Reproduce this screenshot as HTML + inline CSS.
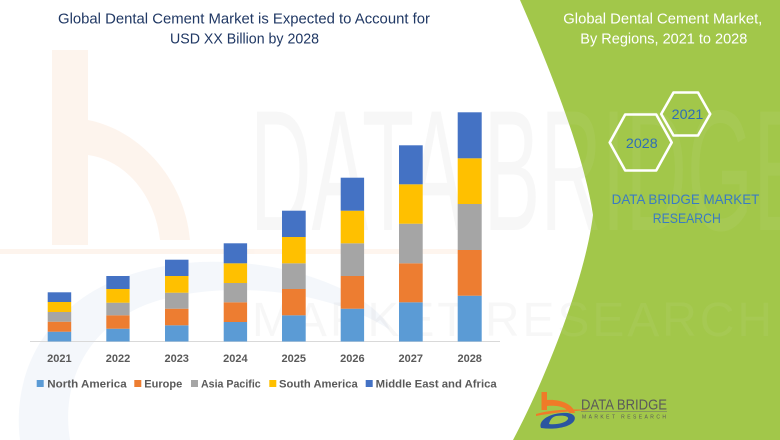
<!DOCTYPE html>
<html><head><meta charset="utf-8"><style>
html,body{margin:0;padding:0;background:#fff;}
svg{display:block;}
text{font-family:"Liberation Sans",sans-serif;}
</style></head><body>
<svg width="780" height="440" viewBox="0 0 780 440" xmlns="http://www.w3.org/2000/svg">
<rect width="780" height="440" fill="#fff"/>
<!-- faint watermark logo -->
<g opacity="0.08">
  <rect x="52" y="50" width="36" height="195" fill="#f07a28"/>
  <path d="M88,120 C140,130 185,180 190,240 L160,240 C155,195 125,160 88,155 Z" fill="#f07a28"/>
  <rect x="0" y="249" width="470" height="5" fill="#f07a28"/>
</g>
<g opacity="0.05">
  <path d="M20,440 C10,360 60,270 200,262 C300,258 380,300 390,330 C330,290 230,280 160,300 C90,320 60,380 70,440 Z" fill="#2e5da8"/>
</g>
<g fill="#000" fill-opacity="0.03">
  <text x="250" y="230" font-size="172" textLength="560" lengthAdjust="spacingAndGlyphs">DATA BRIDGE</text>
  <text x="252" y="336" font-size="48" textLength="520" lengthAdjust="spacing">MARKET RESEARCH</text>
</g>
<!-- green panel -->
<path d="M520,0 L780,0 L780,440 L513,440 C545,380 585,280 593,215 C585,160 555,80 520,0 Z" fill="#a2c74a"/>
<g fill="#fff" fill-opacity="0.05">
  <text x="250" y="230" font-size="172" textLength="560" lengthAdjust="spacingAndGlyphs">DATA BRIDGE</text>
  <text x="252" y="336" font-size="48" textLength="520" lengthAdjust="spacing">MARKET RESEARCH</text>
</g>
<!-- left title -->
<text x="244" y="23.5" font-size="15" fill="#203864" text-anchor="middle" textLength="372" lengthAdjust="spacingAndGlyphs">Global Dental Cement Market is Expected to Account for</text>
<text x="244.5" y="43.5" font-size="15" fill="#203864" text-anchor="middle" textLength="149" lengthAdjust="spacingAndGlyphs">USD XX Billion by 2028</text>
<!-- right title -->
<text x="662.8" y="23.5" font-size="15" fill="#fff" text-anchor="middle" textLength="199" lengthAdjust="spacingAndGlyphs">Global Dental Cement Market,</text>
<text x="663.8" y="43.5" font-size="15" fill="#fff" text-anchor="middle" textLength="167" lengthAdjust="spacingAndGlyphs">By Regions, 2021 to 2028</text>
<!-- hexagons -->
<polygon points="661.2,114 673.5,92.5 698,92.5 710.2,114 698,135.5 673.5,135.5" fill="none" stroke="#fff" stroke-width="2.6" stroke-linejoin="round"/>
<polygon points="609.7,142.5 625.2,114.5 656.2,114.5 671.7,142.5 656.2,170.5 625.2,170.5" fill="none" stroke="#fff" stroke-width="2.6" stroke-linejoin="round"/>
<text x="687.5" y="119" font-size="14" fill="#2f6db5" text-anchor="middle" textLength="31.7" lengthAdjust="spacingAndGlyphs">2021</text>
<text x="641.8" y="148" font-size="14" fill="#2f6db5" text-anchor="middle" textLength="31.7" lengthAdjust="spacingAndGlyphs">2028</text>
<text x="685.5" y="204" font-size="14" fill="#3a7bc2" text-anchor="middle" textLength="147.7" lengthAdjust="spacingAndGlyphs">DATA BRIDGE MARKET</text>
<text x="686.8" y="223" font-size="14" fill="#3a7bc2" text-anchor="middle" textLength="68" lengthAdjust="spacingAndGlyphs">RESEARCH</text>
<!-- baseline -->
<line x1="30" y1="341.5" x2="500" y2="341.5" stroke="#d9d9d9" stroke-width="1"/>
<!-- bars -->
<g>
<rect x="47.7" y="331.7" width="23.5" height="9.8" fill="#5b9bd5"/>
<rect x="47.7" y="321.7" width="23.5" height="10" fill="#ed7d31"/>
<rect x="47.7" y="312" width="23.5" height="9.7" fill="#a5a5a5"/>
<rect x="47.7" y="302" width="23.5" height="10" fill="#ffc000"/>
<rect x="47.7" y="292.3" width="23.5" height="9.7" fill="#4472c4"/>
<rect x="106.3" y="328.7" width="23.3" height="12.8" fill="#5b9bd5"/>
<rect x="106.3" y="315.3" width="23.3" height="13.4" fill="#ed7d31"/>
<rect x="106.3" y="302.7" width="23.3" height="12.6" fill="#a5a5a5"/>
<rect x="106.3" y="289" width="23.3" height="13.7" fill="#ffc000"/>
<rect x="106.3" y="276" width="23.3" height="13" fill="#4472c4"/>
<rect x="165" y="325.3" width="23.5" height="16.2" fill="#5b9bd5"/>
<rect x="165" y="308.7" width="23.5" height="16.6" fill="#ed7d31"/>
<rect x="165" y="292.7" width="23.5" height="16" fill="#a5a5a5"/>
<rect x="165" y="276" width="23.5" height="16.7" fill="#ffc000"/>
<rect x="165" y="259.7" width="23.5" height="16.3" fill="#4472c4"/>
<rect x="223.7" y="322" width="23.4" height="19.5" fill="#5b9bd5"/>
<rect x="223.7" y="302.3" width="23.4" height="19.7" fill="#ed7d31"/>
<rect x="223.7" y="283" width="23.4" height="19.3" fill="#a5a5a5"/>
<rect x="223.7" y="263.3" width="23.4" height="19.7" fill="#ffc000"/>
<rect x="223.7" y="243.3" width="23.4" height="20" fill="#4472c4"/>
<rect x="282" y="315.3" width="23.7" height="26.2" fill="#5b9bd5"/>
<rect x="282" y="289" width="23.7" height="26.3" fill="#ed7d31"/>
<rect x="282" y="263.3" width="23.7" height="25.7" fill="#a5a5a5"/>
<rect x="282" y="237" width="23.7" height="26.3" fill="#ffc000"/>
<rect x="282" y="210.7" width="23.7" height="26.3" fill="#4472c4"/>
<rect x="340.7" y="308.7" width="23.4" height="32.8" fill="#5b9bd5"/>
<rect x="340.7" y="276" width="23.4" height="32.7" fill="#ed7d31"/>
<rect x="340.7" y="243.3" width="23.4" height="32.7" fill="#a5a5a5"/>
<rect x="340.7" y="210.7" width="23.4" height="32.6" fill="#ffc000"/>
<rect x="340.7" y="177.7" width="23.4" height="33" fill="#4472c4"/>
<rect x="399" y="302.3" width="23.7" height="39.2" fill="#5b9bd5"/>
<rect x="399" y="263.3" width="23.7" height="39" fill="#ed7d31"/>
<rect x="399" y="223.7" width="23.7" height="39.6" fill="#a5a5a5"/>
<rect x="399" y="184.3" width="23.7" height="39.4" fill="#ffc000"/>
<rect x="399" y="145.3" width="23.7" height="39" fill="#4472c4"/>
<rect x="457.7" y="295.7" width="24" height="45.8" fill="#5b9bd5"/>
<rect x="457.7" y="250" width="24" height="45.7" fill="#ed7d31"/>
<rect x="457.7" y="204" width="24" height="46" fill="#a5a5a5"/>
<rect x="457.7" y="158.3" width="24" height="45.7" fill="#ffc000"/>
<rect x="457.7" y="112.3" width="24" height="46" fill="#4472c4"/>
</g>
<!-- year labels -->
<g font-size="11" font-weight="bold" fill="#595959" text-anchor="middle">
<text x="59.4" y="362">2021</text>
<text x="118" y="362">2022</text>
<text x="176.7" y="362">2023</text>
<text x="235.4" y="362">2024</text>
<text x="293.8" y="362">2025</text>
<text x="352.4" y="362">2026</text>
<text x="410.8" y="362">2027</text>
<text x="469.7" y="362">2028</text>
</g>
<!-- legend -->
<g font-size="11" font-weight="bold" fill="#595959">
<rect x="36.7" y="380" width="7" height="7" fill="#5b9bd5"/>
<text x="47.3" y="387.3" textLength="79.4" lengthAdjust="spacingAndGlyphs">North America</text>
<rect x="134.3" y="380" width="7" height="7" fill="#ed7d31"/>
<text x="144.3" y="387.3" textLength="38" lengthAdjust="spacingAndGlyphs">Europe</text>
<rect x="191" y="380" width="7" height="7" fill="#a5a5a5"/>
<text x="201" y="387.3" textLength="59.7" lengthAdjust="spacingAndGlyphs">Asia Pacific</text>
<rect x="269.3" y="380" width="7" height="7" fill="#ffc000"/>
<text x="279" y="387.3" textLength="78.7" lengthAdjust="spacingAndGlyphs">South America</text>
<rect x="365.7" y="380" width="7" height="7" fill="#4472c4"/>
<text x="375.7" y="387.3" textLength="121" lengthAdjust="spacingAndGlyphs">Middle East and Africa</text>
</g>
<!-- bottom logo -->
<g>
  <rect x="541.5" y="392" width="5.5" height="18" fill="#f07a28"/>
  <path d="M547,400 C560,399 573,404 575,413 L569,413 C567,407 557,405 547,406 Z" fill="#f07a28"/>
  <path d="M536,414 C552,409 575,409 590,410 C570,411 552,413 536,416 Z" fill="#f07a28"/>
  <path d="M541,428 C538,421 548,414 562,413 C572,412 577,416 574,421 C570,427 556,430 541,428 Z M549,424 C556,425 566,423 568,419 C569,416 563,415 556,416 C552,417 550,420 549,424 Z" fill="#2a55a0" fill-rule="evenodd"/>
  <text x="581" y="409.5" font-size="15" fill="#5a5a5a" textLength="86" lengthAdjust="spacingAndGlyphs">DATA BRIDGE</text>
  <line x1="581" y1="411.5" x2="667" y2="411.5" stroke="#6a6a6a" stroke-width="0.6"/>
  <text x="582" y="418.5" font-size="5" fill="#5a5a5a" textLength="84" lengthAdjust="spacing">MARKET RESEARCH</text>
</g>
</svg>
</body></html>
